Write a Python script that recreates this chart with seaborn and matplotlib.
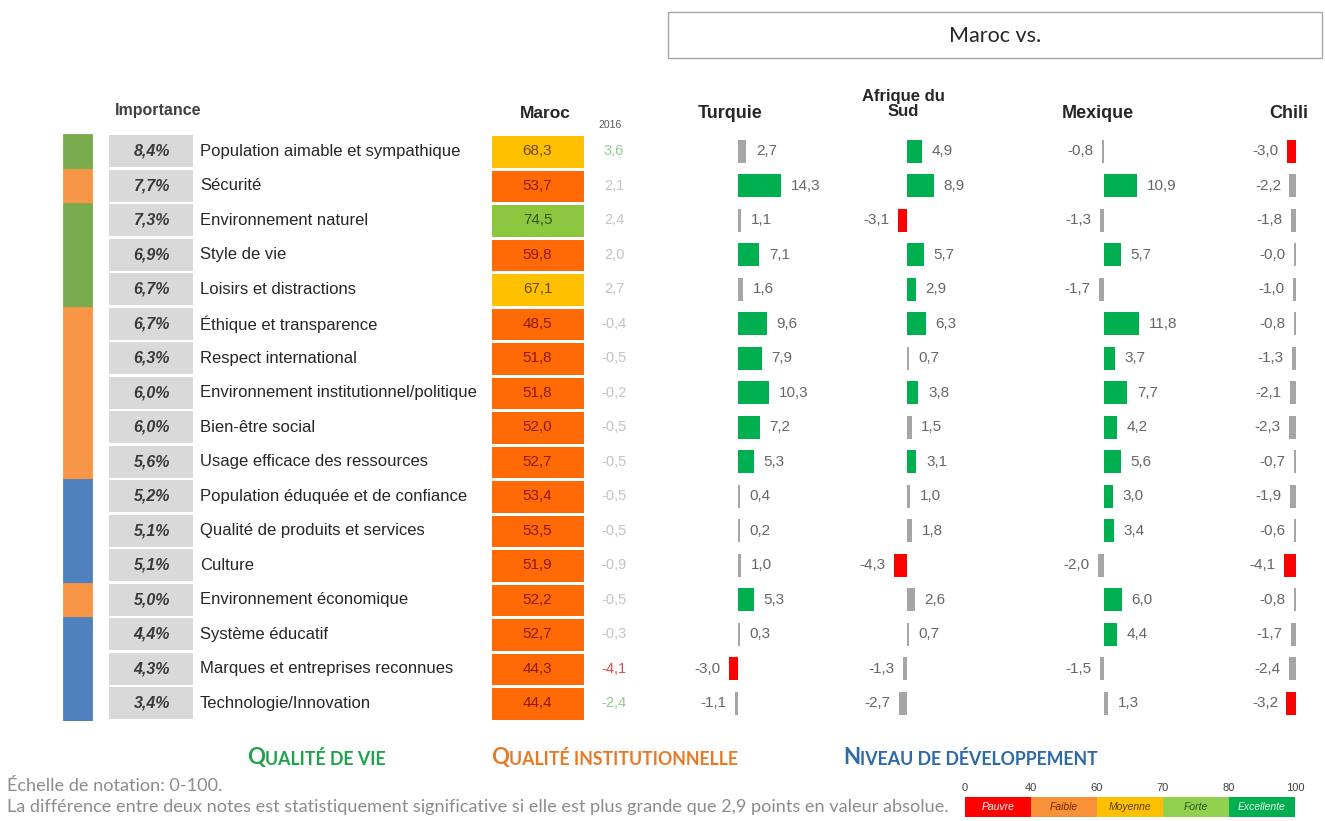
"""
plot.py
Tableau de bord "Maroc vs." : importance des attributs, note du Maroc,
évolution depuis 2016 et écarts avec quatre pays de comparaison.
"""

import matplotlib
matplotlib.use("Agg")
import matplotlib.pyplot as plt
from matplotlib.colors import ListedColormap
from matplotlib.patches import Rectangle
import numpy as np
import pandas as pd
import seaborn as sns

sns.set_theme(style="white")
plt.rcParams["font.family"] = ["Liberation Sans", "DejaVu Sans"]

# ---------------------------------------------------------------- données
attributes = [
    "Population aimable et sympathique", "Sécurité", "Environnement naturel",
    "Style de vie", "Loisirs et distractions", "Éthique et transparence",
    "Respect international", "Environnement institutionnel/politique",
    "Bien-être social", "Usage efficace des ressources",
    "Population éduquée et de confiance", "Qualité de produits et services",
    "Culture", "Environnement économique", "Système éducatif",
    "Marques et entreprises reconnues", "Technologie/Innovation",
]
importance = [8.4, 7.7, 7.3, 6.9, 6.7, 6.7, 6.3, 6.0, 6.0, 5.6, 5.2, 5.1, 5.1, 5.0, 4.4, 4.3, 3.4]
groups = ["vie", "inst", "vie", "vie", "vie", "inst", "inst", "inst", "inst", "inst",
          "dev", "dev", "dev", "inst", "dev", "dev", "dev"]
maroc = [68.3, 53.7, 74.5, 59.8, 67.1, 48.5, 51.8, 51.8, 52.0, 52.7, 53.4, 53.5, 51.9, 52.2, 52.7, 44.3, 44.4]
change_2016 = [3.6, 2.1, 2.4, 2.0, 2.7, -0.4, -0.5, -0.2, -0.5, -0.5, -0.5, -0.5, -0.9, -0.5, -0.3, -4.1, -2.4]
change_2016_sig = ["up", "", "", "", "", "", "", "", "", "", "", "", "", "", "", "down", "up"]

countries = ["Turquie", "Afrique du\nSud", "Mexique", "Chili"]
turquie = [2.7, 14.3, 1.1, 7.1, 1.6, 9.6, 7.9, 10.3, 7.2, 5.3, 0.4, 0.2, 1.0, 5.3, 0.3, -3.0, -1.1]
afrique_du_sud = [4.9, 8.9, -3.1, 5.7, 2.9, 6.3, 0.7, 3.8, 1.5, 3.1, 1.0, 1.8, -4.3, 2.6, 0.7, -1.3, -2.7]
mexique = [-0.8, 10.9, -1.3, 5.7, -1.7, 11.8, 3.7, 7.7, 4.2, 5.6, 3.0, 3.4, -2.0, 6.0, 4.4, -1.5, 1.3]
chili = [-3.0, -2.2, -1.8, -0.0, -1.0, -0.8, -1.3, -2.1, -2.3, -0.7, -1.9, -0.6, -4.1, -0.8, -1.7, -2.4, -3.2]

group_titles = ["Qualité de vie", "Qualité institutionnelle", "Niveau de développement"]
scale_bounds = [0, 40, 60, 70, 80, 100]
scale_names = ["Pauvre", "Faible", "Moyenne", "Forte", "Excellente"]
SIG_THRESHOLD = 2.9

# ---------------------------------------------------------------- styles
W, H = 1325, 821
ROW_TOP, ROW_H = 134, 34.5
N = len(attributes)
ROW_BOTTOM = ROW_TOP + N * ROW_H

group_colors = {"vie": "#7aab4e", "inst": "#f79646", "dev": "#4f81bd"}
title_colors = ["#1fa34a", "#e97a25", "#2e6aa8"]
band_cell = ["#ff0000", "#ff6a06", "#ffc000", "#8dc63f", "#00b050"]
band_legend = ["#ff0000", "#f7923a", "#ffc000", "#92d050", "#00b050"]
band_text = ["#ffffff", "#8b1a00", "#6b4a00", "#2d5a17", "#ffffff"]
legend_text = ["#ffffff", "#7a2a00", "#5a4000", "#2d5a17", "#e8f8e8"]
sig_palette = {"pos": "#00b050", "neg": "#ff0000", "ns": "#a6a6a6"}
country_zero_x = [738, 907, 1104, 1296]
PX_PER_UNIT = 3.0
SANS_HUM = ["Lato", "DejaVu Sans"]


def fmt(v, nd=1):
    return f"{v:.{nd}f}".replace(".", ",")


def band_of(v):
    return int(np.searchsorted(scale_bounds[1:-1], v, side="right"))


def fig_rect(x0, x1, y0=ROW_TOP, y1=ROW_BOTTOM):
    return [x0 / W, 1 - y1 / H, (x1 - x0) / W, (y1 - y0) / H]


def small_caps(ax, x, y, text, color, big=16, small=12.8):
    """Petites capitales : première lettre en grand, le reste en majuscules réduites."""
    kw = dict(color=color, fontweight="bold", family=SANS_HUM, va="bottom", ha="left")
    first = ax.text(x, y, text[0].upper(), fontsize=big, **kw)
    ax.annotate(text[1:].upper(), xy=(1, 0), xycoords=first, fontsize=small, **kw)


fig = plt.figure(figsize=(W / 100, H / 100), dpi=100)

bg = fig.add_axes([0, 0, 1, 1])
bg.set_xlim(0, W)
bg.set_ylim(H, 0)
bg.axis("off")

# ---------------------------------------------------------------- tableau
tab = fig.add_axes(fig_rect(0, W))
tab.set_xlim(0, W)
tab.set_ylim(N - 0.5, -0.5)
tab.axis("off")
rows = np.arange(N)

gcol = [group_colors[g] for g in groups]
tab.barh(rows, 29, left=63, height=1.0, color=gcol, edgecolor=gcol, linewidth=0.6)
tab.barh(rows, 84, left=109, height=0.94, color="#d9d9d9", linewidth=0)

for i in rows:
    tab.text(152, i, fmt(importance[i]) + "%", ha="center", va="center", fontsize=11.5,
             fontweight="bold", fontstyle="italic", color="#3a3a3a")
    tab.text(200, i, attributes[i], ha="left", va="center", fontsize=12, color="#262626")
    c = {"up": "#8fcf8f", "down": "#e84a4a"}.get(change_2016_sig[i], "#c4c4c4")
    tab.text(614, i, fmt(change_2016[i]), ha="center", va="center", fontsize=10.5, color=c)

# note du Maroc : carte de chaleur à bandes
hm_ax = fig.add_axes(fig_rect(490, 585))
cell_cmap = ListedColormap([band_cell[band_of(b + 5)] for b in range(0, 100, 10)])
maroc_df = pd.DataFrame({"Maroc": maroc}, index=attributes)
annot = np.array([[fmt(v)] for v in maroc])
sns.heatmap(maroc_df, ax=hm_ax, cmap=cell_cmap, vmin=0, vmax=100, cbar=False,
            annot=annot, fmt="", linewidths=2, linecolor="white",
            xticklabels=False, yticklabels=False, annot_kws={"size": 11})
hm_ax.set_xlabel("")
hm_ax.set_ylabel("")
for t, v in zip(hm_ax.texts, maroc):
    t.set_color(band_text[band_of(v)])

# écarts avec les pays de comparaison
for values, zero in zip([turquie, afrique_du_sud, mexique, chili], country_zero_x):
    ax = fig.add_axes(fig_rect(zero - 20 * PX_PER_UNIT, zero + 20 * PX_PER_UNIT))
    vals = np.array(values)
    df = pd.DataFrame({
        "attribut": attributes,
        "ecart": vals,
        "trace": np.copysign(np.maximum(np.abs(vals), 0.7), vals),
        "sig": np.where(vals >= SIG_THRESHOLD, "pos", np.where(vals <= -SIG_THRESHOLD, "neg", "ns")),
    })
    sns.barplot(data=df, x="trace", y="attribut", hue="sig", palette=sig_palette, dodge=False,
                width=0.68, errorbar=None, legend=False, orient="h", ax=ax, linewidth=0,
                saturation=1)
    ax.set_xlim(-20, 20)
    ax.set_ylim(N - 0.5, -0.5)
    ax.axis("off")
    for i, (v, tv) in enumerate(zip(df["ecart"], df["trace"])):
        neg = np.signbit(v)
        ax.annotate(fmt(v), xy=(tv, i), xytext=(-6 if neg else 7, 0), textcoords="offset points",
                    ha="right" if neg else "left", va="center", fontsize=11, color="#666666",
                    annotation_clip=False)

# ---------------------------------------------------------------- en-têtes
bg.add_patch(Rectangle((668, 12), 654, 46, facecolor="white", edgecolor="#a6a6a6", linewidth=1))
bg.text(995, 36, "Maroc vs.", ha="center", va="center", fontsize=15.5, color="#262626",
        family=SANS_HUM)
bg.text(115, 110, "Importance", ha="left", va="center", fontsize=11.5, fontweight="bold", color="#404040")
bg.text(545, 113, "Maroc", ha="center", va="center", fontsize=12.5, fontweight="bold", color="#262626")
bg.text(610, 125, "2016", ha="center", va="center", fontsize=7.5, color="#595959")
for name, x in zip(countries, [730, 903, 1098, 1289]):
    two_lines = "\n" in name
    bg.text(x, 104 if two_lines else 113, name, ha="center", va="center",
            fontsize=12 if two_lines else 13, fontweight="bold", color="#262626", linespacing=1.05)

# ---------------------------------------------------------------- pied
for title, color, x in zip(group_titles, title_colors, [247, 491, 843]):
    small_caps(bg, x, 768, title, color)

bg.text(7, 786, "Échelle de notation: 0-100.", ha="left", va="center", fontsize=13.1,
        color="#8c8c8c", family=SANS_HUM)
bg.text(7, 807, "La différence entre deux notes est statistiquement significative si elle est plus "
        "grande que 2,9 points en valeur absolue.", ha="left", va="center", fontsize=13.1,
        color="#8c8c8c", family=SANS_HUM)

seg_w = 66
for k, (name, col) in enumerate(zip(scale_names, band_legend)):
    bg.barh(807, seg_w, left=965 + k * seg_w, height=20, color=col, linewidth=0)
    bg.text(965 + (k + 0.5) * seg_w, 807, name, ha="center", va="center", fontsize=7.5,
            fontstyle="italic", color=legend_text[k])
for k, b in enumerate(scale_bounds):
    bg.text(965 + k * seg_w, 788, str(b), ha="center", va="center", fontsize=8, color="#404040")

fig.savefig("out.png", dpi=100)
